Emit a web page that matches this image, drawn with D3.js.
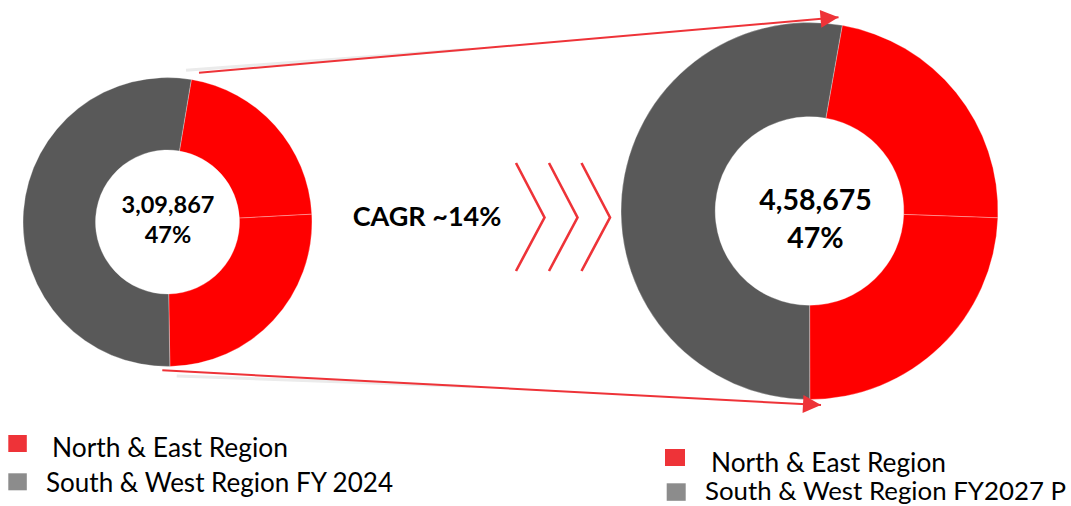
<!DOCTYPE html>
<html>
<head>
<meta charset="utf-8">
<script src="https://cdn.jsdelivr.net/npm/d3@7/dist/d3.min.js"></script>
<style>
  html, body { margin: 0; padding: 0; background: #ffffff; }
  svg { display: block; }
</style>
</head>
<body>
<svg id="chart" width="1071" height="506"></svg>
<script>
// Regional share of the total, in percent, going clockwise:
// two North & East segments, then South & West.
const segments = ["North & East A", "North & East B", "South & West"];
const segmentGroup = ["ne", "ne", "sw"];
const sharesFY2024 = [21.5, 25.6, 52.9];
const sharesFY2027 = [22.8, 24.4, 52.8];

const totalLabels = ["3,09,867", "4,58,675"];
const shareLabels = ["47%", "47%"];
const cagrLabel = "CAGR ~14%";

const legendLeft = ["North & East Region", "South & West Region FY 2024"];
const legendRight = ["North & East Region", "South & West Region FY2027 P"];

const svg = d3.select("#chart");
const deg = Math.PI / 180;

const sliceColor = d3.scaleOrdinal().domain(["ne", "sw"]).range(["#ff0000", "#595959"]);
const keyColor = d3.scaleOrdinal().domain(["ne", "sw"]).range(["#ee3338", "#8c8c8c"]);
const accent = "#ee3338";

function donut(shares, cx, cy, rOuter, rInner, start) {
  const pie = d3.pie().sort(null).value(d => d)
    .startAngle(start * deg).endAngle(start * deg + 2 * Math.PI);
  const arc = d3.arc().outerRadius(rOuter).innerRadius(rInner);
  const g = svg.append("g").attr("transform", `translate(${cx},${cy})`);
  g.selectAll("path")
    .data(pie(shares))
    .join("path")
    .attr("d", arc)
    .attr("fill", (d, i) => sliceColor(segmentGroup[i]))
    .attr("stroke", "#ffffff")
    .attr("stroke-width", 0.5)
    .attr("stroke-opacity", 0.6);
  return g;
}

// Connector arrows; each has a faint grey shadow that fans out at its tail
const defs = svg.append("defs");
defs.append("marker")
  .attr("id", "head")
  .attr("viewBox", "0 0 10 10")
  .attr("refX", 10).attr("refY", 5)
  .attr("markerUnits", "userSpaceOnUse")
  .attr("markerWidth", 19).attr("markerHeight", 18)
  .attr("orient", "auto")
  .append("path")
  .attr("d", "M0,0 L10,5 L0,10 Z")
  .attr("fill", accent);

const arrows = [
  { x1: 199, y1: 72.7, x2: 838.5, y2: 17.3, sx: 186, sy: 70.3, mx: 470 },
  { x1: 162.3, y1: 370.3, x2: 821, y2: 405, sx: 176.7, sy: 376, mx: 470 }
];
arrows.forEach(a => {
  const my = a.y1 + (a.mx - a.x1) / (a.x2 - a.x1) * (a.y2 - a.y1);
  svg.append("line")
    .attr("x1", a.sx).attr("y1", a.sy)
    .attr("x2", a.mx).attr("y2", my)
    .attr("stroke", "#ebebeb").attr("stroke-width", 3);
});

donut(sharesFY2024, 167.5, 222, 144.5, 72, 9.5);
donut(sharesFY2027, 809.5, 211, 188.5, 94.3, 10);

arrows.forEach(a => {
  svg.append("line")
    .attr("x1", a.x1).attr("y1", a.y1)
    .attr("x2", a.x2).attr("y2", a.y2)
    .attr("stroke", accent).attr("stroke-width", 2)
    .attr("marker-end", "url(#head)");
});

// Centre labels
const centres = [
  { x: 168, y1: 212.7, y2: 243.3, size: 23.5 },
  { x: 815.5, y1: 210, y2: 248.3, size: 28.5 }
];
centres.forEach((c, i) => {
  const t = svg.append("g")
    .attr("font-family", "Lato, 'Open Sans', sans-serif")
    .attr("font-weight", 700)
    .attr("font-size", c.size)
    .attr("fill", "#000")
    .attr("text-anchor", "middle");
  t.append("text").attr("x", c.x).attr("y", c.y1).text(totalLabels[i]);
  t.append("text").attr("x", c.x).attr("y", c.y2).text(shareLabels[i]);
});

// Growth label and chevrons
svg.append("text")
  .attr("x", 352.7).attr("y", 226)
  .attr("font-family", "Lato, 'Open Sans', sans-serif")
  .attr("font-weight", 700)
  .attr("font-size", 27)
  .attr("fill", "#000")
  .text(cagrLabel);

[516, 549, 581.5].forEach(x0 => {
  svg.append("polyline")
    .attr("points", `${x0},163 ${x0 + 28.5},217.5 ${x0},271`)
    .attr("fill", "none")
    .attr("stroke", accent)
    .attr("stroke-width", 2.6);
});

// Legends
function legend(labels, items) {
  items.forEach((it, i) => {
    svg.append("rect")
      .attr("x", it.rx).attr("y", it.ry)
      .attr("width", it.rw).attr("height", it.rh)
      .attr("fill", keyColor(i === 0 ? "ne" : "sw"));
    svg.append("text")
      .attr("x", it.tx).attr("y", it.ty)
      .attr("font-family", "Lato, 'Open Sans', sans-serif")
      .attr("font-size", it.fs)
      .attr("fill", "#000")
      .attr("textLength", it.tw)
      .attr("lengthAdjust", "spacingAndGlyphs")
      .text(labels[i]);
  });
}
legend(legendLeft, [
  { rx: 8.3, ry: 435, rw: 18.5, rh: 17, tx: 52, ty: 456.7, tw: 236, fs: 26 },
  { rx: 8.3, ry: 473.3, rw: 18.5, rh: 17, tx: 46, ty: 491.7, tw: 347, fs: 26 }
]);
legend(legendRight, [
  { rx: 665, ry: 449, rw: 20, rh: 17, tx: 711, ty: 471.7, tw: 235, fs: 26 },
  { rx: 666.7, ry: 483.3, rw: 19, rh: 17.5, tx: 705, ty: 500.3, tw: 361, fs: 25.2 }
]);
</script>
</body>
</html>
